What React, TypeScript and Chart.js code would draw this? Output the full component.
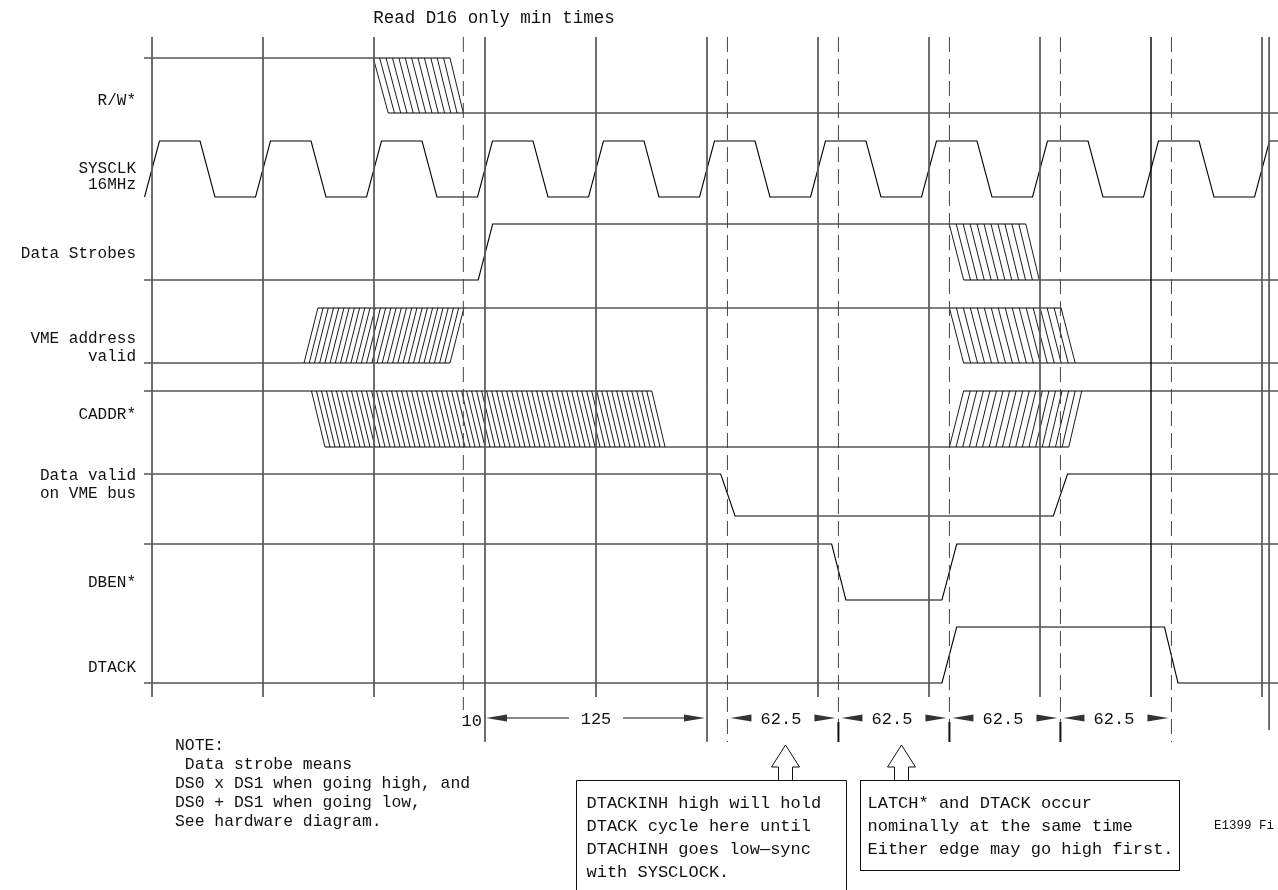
import React, { useEffect, useRef } from 'react';
import { Chart, registerables } from 'chart.js';

Chart.register(...registerables);

type Pt = [number, number];

// ---------------- data (times in ns, logic levels 0 / 1) ----------------
const TITLE = 'Read D16 only min times';
const SIGNAL_LABELS: string[][] = [
  ['R/W*'],
  ['SYSCLK', '16MHz'],
  ['Data Strobes'],
  ['VME address', 'valid'],
  ['CADDR*'],
  ['Data valid', 'on VME bus'],
  ['DBEN*'],
  ['DTACK'],
];

const SYSCLK_RISE = [0, 62.5, 125, 187.5, 250, 312.5, 375, 437.5, 500, 562.5, 625];
const SYSCLK_FALL = [31.25, 93.75, 156.25, 218.75, 281.25, 343.75, 406.25, 468.75, 531.25, 593.75];
const CLOCK_EDGE_NS = 8.4;

const T_LEFT = -4.5;
const T_OUT = 640;

const RW_TRACES: Pt[][] = [
  [[T_LEFT, 1], [167.8, 1]],
  [[133.0, 0], [T_OUT, 0]],
];
const DS_TRACES: Pt[][] = [
  [[T_LEFT, 0], [183.7, 0], [191.8, 1], [492.0, 1]],
  [[457.0, 0], [T_OUT, 0]],
];
const VME_TRACES: Pt[][] = [
  [[T_LEFT, 0], [167.8, 0]],
  [[93.4, 1], [511.9, 1]],
  [[457.0, 0], [T_OUT, 0]],
];
const CADDR_TRACES: Pt[][] = [
  [[T_LEFT, 1], [281.4, 1]],
  [[97.4, 0], [516.2, 0]],
  [[457.0, 1], [T_OUT, 1]],
];
const DATAVALID_TRACES: Pt[][] = [
  [[T_LEFT, 1], [320.2, 1], [328.3, 0], [507.5, 0], [515.5, 1], [T_OUT, 1]],
];
const DBEN_TRACES: Pt[][] = [
  [[T_LEFT, 1], [382.7, 1], [390.7, 0], [444.8, 0], [453.1, 1], [T_OUT, 1]],
];
const DTACK_TRACES: Pt[][] = [
  [[T_LEFT, 0], [444.8, 0], [453.1, 1], [570.1, 1], [577.7, 0], [T_OUT, 0]],
];

// hatched (don't-care) transitions: row, top edge [from,to], bottom edge [from,to]
const HATCH_ROW = [0, 2, 3, 3, 4, 4];
const HATCH_TOP: Pt[] = [[124.6, 167.8], [448.9, 492.0], [93.4, 175.6], [449.0, 511.9], [89.8, 281.4], [457.0, 523.5]];
const HATCH_BOTTOM: Pt[] = [[133.0, 175.3], [457.0, 499.6], [85.6, 167.8], [457.0, 519.8], [97.4, 288.9], [449.0, 516.2]];
const HATCH_GAP_NS = [3.6, 3.9, 2.9, 3.9, 2.8, 3.7];

// reference time lines
const GRID_SOLID = [0, 62.5, 125, 187.5, 250, 312.5, 375, 437.5, 500, 562.5, 625];
const GRID_LONG = [187.5, 312.5];
const GRID_DARK = [562.5];
const GRID_DASHED = [175.3, 324, 386.5, 449, 511.5, 574];
const FRAME_LINE = 629;

// dimensions
const DIM_OFFSET = { at: 187.5, label: '10' };
const DIM_SPANS: [number, number, string][] = [
  [187.5, 312.5, '125'],
  [324, 386.5, '62.5'],
  [386.5, 449, '62.5'],
  [449, 511.5, '62.5'],
  [511.5, 574, '62.5'],
];
const DIM_TICKS = [386.5, 449, 511.5];

// notes & callouts
const NOTE_LINES = ['NOTE:', ' Data strobe means', 'DS0 x DS1 when going high, and', 'DS0 + DS1 when going low,', 'See hardware diagram.'];
const BOX1_LINES = ['DTACKINH high will hold', 'DTACK cycle here until', 'DTACHINH goes low\u2014sync', 'with SYSCLOCK.'];
const BOX2_LINES = ['LATCH* and DTACK occur', 'nominally at the same time', 'Either edge may go high first.'];
const CALLOUT_AT = [356.4, 421.6];
const BOX1_SPAN: Pt = [238.7, 390.8];
const BOX2_SPAN: Pt = [398.6, 578.3];
const FIG_ID = 'E1399 Fi';

// ---------------- layout (pixels) ----------------
const W = 1278;
const H = 890;
const PX_PER_NS = 111 / 62.5;
const X0 = 152;
const X_MIN = -X0 / PX_PER_NS;
const X_MAX = (W - X0) / PX_PER_NS;

const ROWS = [
  { hi: 58, lo: 113 },
  { hi: 141, lo: 197 },
  { hi: 224, lo: 280 },
  { hi: 308, lo: 363 },
  { hi: 391, lo: 447 },
  { hi: 474, lo: 516 },
  { hi: 544, lo: 600 },
  { hi: 627, lo: 683 },
];
const LABEL_Y = [[101], [169, 185], [254], [339, 357], [415], [476, 494], [583], [668]];
const LABEL_RIGHT = 136;
const GRID_TOP = 37;
const GRID_BOTTOM = 697;
const GRID_LONG_BOTTOM = 742;
const DASH_BOTTOM = 742;
const FIRST_DASH_BOTTOM = 710;
const FRAME_BOTTOM = 730;
const DIM_Y = 718;
const TICK_TOP = 722;
const BOX_TOP = 780;

const MONO = '"Liberation Mono", "DejaVu Sans Mono", monospace';

// ---------------- dataset builders ----------------
type XY = { x: number; y: number | null };

function clockPoints(): Pt[] {
  const ev: Pt[] = [...SYSCLK_RISE.map((t) => [t, 1] as Pt), ...SYSCLK_FALL.map((t) => [t, 0] as Pt)].sort((a, b) => a[0] - b[0]);
  const pts: Pt[] = [];
  let level = 0;
  for (const [t, to] of ev) {
    pts.push([t - CLOCK_EDGE_NS / 2, level]);
    pts.push([t + CLOCK_EDGE_NS / 2, to]);
    level = to;
  }
  pts.push([T_OUT, level]);
  return pts;
}

function tracesToData(traces: Pt[][], row: number): XY[] {
  const out: XY[] = [];
  traces.forEach((tr) => {
    tr.forEach(([t, lv]) => out.push({ x: t, y: lv ? ROWS[row].hi : ROWS[row].lo }));
    out.push({ x: tr[tr.length - 1][0], y: null });
  });
  return out;
}

function hatchData(): XY[] {
  const out: XY[] = [];
  HATCH_ROW.forEach((row, i) => {
    const [t0, t1] = HATCH_TOP[i];
    const [b0, b1] = HATCH_BOTTOM[i];
    const n = Math.max(1, Math.round((t1 - t0) / HATCH_GAP_NS[i]));
    for (let k = 0; k <= n; k++) {
      const f = k / n;
      out.push({ x: t0 + f * (t1 - t0), y: ROWS[row].hi });
      out.push({ x: b0 + f * (b1 - b0), y: ROWS[row].lo });
      out.push({ x: b0 + f * (b1 - b0), y: null });
    }
  });
  return out;
}

function vLines(times: number[], top: number, bottom: (t: number) => number): XY[] {
  const out: XY[] = [];
  times.forEach((t) => {
    out.push({ x: t, y: top });
    out.push({ x: t, y: bottom(t) });
    out.push({ x: t, y: null });
  });
  return out;
}

const lineDs = (data: XY[], color: string, width: number, dash: number[] = []) => ({
  data,
  borderColor: color,
  borderWidth: width,
  borderDash: dash,
  pointRadius: 0,
  fill: false,
  spanGaps: false,
  tension: 0,
});

// ---------------- annotation plugin ----------------
const annotations = {
  id: 'timingAnnotations',
  afterDatasetsDraw(chart: any) {
    const { ctx, scales } = chart;
    const xs = scales.x;
    const ys = scales.y;
    const px = (t: number) => xs.getPixelForValue(t);
    const py = (v: number) => ys.getPixelForValue(v);
    ctx.save();
    ctx.fillStyle = '#111';
    ctx.strokeStyle = '#111';
    ctx.lineWidth = 1;
    ctx.textBaseline = 'middle';

    // title
    ctx.font = `17.5px ${MONO}`;
    ctx.textAlign = 'center';
    ctx.fillText(TITLE, 494, 18);

    // signal labels
    ctx.font = `16px ${MONO}`;
    ctx.textAlign = 'right';
    SIGNAL_LABELS.forEach((lines, i) => {
      lines.forEach((s, j) => ctx.fillText(s, LABEL_RIGHT, py(LABEL_Y[i][j])));
    });

    // dimension row
    const arrow = (tipX: number, dir: number) => {
      ctx.beginPath();
      ctx.moveTo(tipX, py(DIM_Y));
      ctx.lineTo(tipX + dir * 21, py(DIM_Y) - 3.5);
      ctx.lineTo(tipX + dir * 21, py(DIM_Y) + 3.5);
      ctx.closePath();
      ctx.fillStyle = '#333';
      ctx.fill();
      ctx.fillStyle = '#111';
    };
    ctx.font = `17px ${MONO}`;
    ctx.textAlign = 'right';
    ctx.fillText(DIM_OFFSET.label, px(DIM_OFFSET.at) - 3, py(DIM_Y + 3));
    ctx.textAlign = 'center';
    DIM_SPANS.forEach(([a, b, label], i) => {
      const xa = px(a);
      const xb = px(b);
      if (i === 0) {
        const xm = (xa + xb) / 2;
        arrow(xa + 1, 1);
        arrow(xb - 2, -1);
        ctx.beginPath();
        ctx.moveTo(xa + 22, py(DIM_Y));
        ctx.lineTo(xm - 27, py(DIM_Y));
        ctx.moveTo(xm + 27, py(DIM_Y));
        ctx.lineTo(xb - 23, py(DIM_Y));
        ctx.stroke();
        ctx.fillText(label, xm, py(DIM_Y + 1));
      } else {
        arrow(xa + 3, 1);
        arrow(xb - 3, -1);
        ctx.fillText(label, (xa + xb) / 2 - 2, py(DIM_Y + 1));
      }
    });
    ctx.lineWidth = 2;
    DIM_TICKS.forEach((t) => {
      ctx.beginPath();
      ctx.moveTo(px(t), py(TICK_TOP));
      ctx.lineTo(px(t), py(GRID_LONG_BOTTOM));
      ctx.stroke();
    });
    ctx.lineWidth = 1;

    // notes
    ctx.font = `16.4px ${MONO}`;
    ctx.textAlign = 'left';
    NOTE_LINES.forEach((s, i) => ctx.fillText(s, 175, py(746 + i * 19)));

    // callout arrows
    CALLOUT_AT.forEach((t) => {
      const cx = Math.round(px(t)) + 0.5;
      ctx.beginPath();
      ctx.moveTo(cx - 7, py(BOX_TOP));
      ctx.lineTo(cx - 7, py(767));
      ctx.lineTo(cx - 14, py(767));
      ctx.lineTo(cx, py(745));
      ctx.lineTo(cx + 14, py(767));
      ctx.lineTo(cx + 7, py(767));
      ctx.lineTo(cx + 7, py(BOX_TOP));
      ctx.stroke();
    });

    // boxes
    ctx.font = `17px ${MONO}`;
    const b1l = Math.round(px(BOX1_SPAN[0])) + 0.5;
    const b1r = Math.round(px(BOX1_SPAN[1])) + 0.5;
    const top = py(BOX_TOP) + 0.5;
    ctx.beginPath();
    ctx.moveTo(b1l, H + 2);
    ctx.lineTo(b1l, top);
    ctx.lineTo(b1r, top);
    ctx.lineTo(b1r, H + 2);
    ctx.stroke();
    const b2l = Math.round(px(BOX2_SPAN[0])) + 0.5;
    const b2r = Math.round(px(BOX2_SPAN[1])) + 0.5;
    ctx.strokeRect(b2l, top, b2r - b2l, 90);

    BOX1_LINES.forEach((s, i) => ctx.fillText(s, b1l + 10, py(803 + i * 23)));
    BOX2_LINES.forEach((s, i) => ctx.fillText(s, b2l + 7, py(803 + i * 23)));

    ctx.font = `12.5px ${MONO}`;
    ctx.fillText(FIG_ID, 1214, py(826));
    ctx.restore();
  },
};

export default function App() {
  const ref = useRef<HTMLCanvasElement>(null);
  useEffect(() => {
    const datasets = [
      lineDs(vLines(GRID_SOLID.filter((t) => !GRID_DARK.includes(t)), GRID_TOP, (t) => (GRID_LONG.includes(t) ? GRID_LONG_BOTTOM : GRID_BOTTOM)), '#5a5a5a', 1),
      lineDs(vLines(GRID_DARK, GRID_TOP, () => GRID_BOTTOM), '#000', 1.4),
      lineDs(vLines([FRAME_LINE], GRID_TOP, () => FRAME_BOTTOM), '#5a5a5a', 1),
      lineDs(vLines(GRID_DASHED, GRID_TOP, (t) => (t === GRID_DASHED[0] ? FIRST_DASH_BOTTOM : DASH_BOTTOM)), '#444', 1, [15, 7]),
      lineDs(tracesToData(RW_TRACES, 0), '#000', 1.1),
      lineDs(tracesToData([clockPoints()], 1), '#000', 1.1),
      lineDs(tracesToData(DS_TRACES, 2), '#000', 1.1),
      lineDs(tracesToData(VME_TRACES, 3), '#000', 1.1),
      lineDs(tracesToData(CADDR_TRACES, 4), '#000', 1.1),
      lineDs(tracesToData(DATAVALID_TRACES, 5), '#000', 1.1),
      lineDs(tracesToData(DBEN_TRACES, 6), '#000', 1.1),
      lineDs(tracesToData(DTACK_TRACES, 7), '#000', 1.1),
      lineDs(hatchData(), '#000', 0.9),
    ];
    const chart = new Chart(ref.current as HTMLCanvasElement, {
      type: 'line',
      data: { datasets: datasets as any },
      options: {
        animation: false,
        responsive: true,
        maintainAspectRatio: false,
        events: [],
        layout: { padding: 0 },
        plugins: { legend: { display: false }, tooltip: { enabled: false }, title: { display: false } },
        scales: {
          x: { type: 'linear', min: X_MIN, max: X_MAX, display: false },
          y: { type: 'linear', min: 0, max: H, reverse: true, display: false },
        },
      },
      plugins: [annotations],
    } as any);
    return () => chart.destroy();
  }, []);
  return (
    <div style={{ position: 'fixed', left: 0, top: 0, width: W, height: H, background: '#fff' }}>
      <canvas ref={ref} />
    </div>
  );
}
